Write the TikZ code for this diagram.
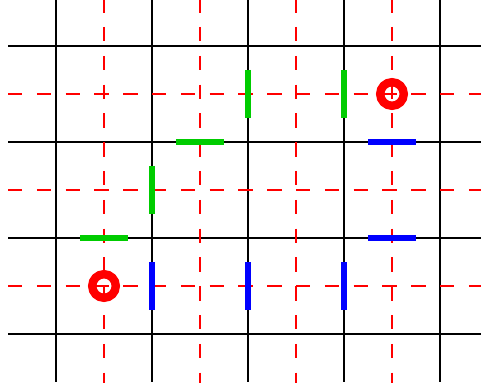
\documentclass[tikz,border=0pt]{standalone}
\begin{document}
\begin{tikzpicture}[x=1pt,y=-1pt,
  gridline/.style={black,line width=1.1pt},
  redline/.style={red,line width=2.5pt,dash pattern=on 14.4pt off 14.4pt},
  gbar/.style={draw=bargreen,line width=6.4pt},
  bbar/.style={draw=blue,line width=6.4pt},
  ring/.style={draw=red,line width=8.4pt}]
\definecolor{bargreen}{RGB}{0,204,0}
\useasboundingbox (0,0) rectangle (481,387);
\clip (0,0) rectangle (481,387);
% black grid
\foreach \x in {56,152,248,344,440} \draw[gridline] (\x,-2) -- (\x,382);
\foreach \y in {46,142,238,334} \draw[gridline] (8,\y) -- (483,\y);
% red dashed grid
\foreach \x in {104,200,296,392} \draw[redline] (\x,-1.8) -- (\x,383);
\foreach \y in {94,190,286} \draw[redline] (8,\y) -- (483,\y);
% green bars
\draw[gbar] (248,70) -- (248,118);
\draw[gbar] (344,70) -- (344,118);
\draw[gbar] (176,142) -- (224,142);
\draw[gbar] (152,166) -- (152,214);
\draw[gbar] (80,238) -- (128,238);
% blue bars
\draw[bbar] (368,142) -- (416,142);
\draw[bbar] (368,238) -- (416,238);
\draw[bbar] (152,262) -- (152,310);
\draw[bbar] (248,262) -- (248,310);
\draw[bbar] (344,262) -- (344,310);
% rings
\draw[ring] (392,94) circle[radius=11.8];
\draw[ring] (104,286) circle[radius=11.8];
\end{tikzpicture}
\end{document}
